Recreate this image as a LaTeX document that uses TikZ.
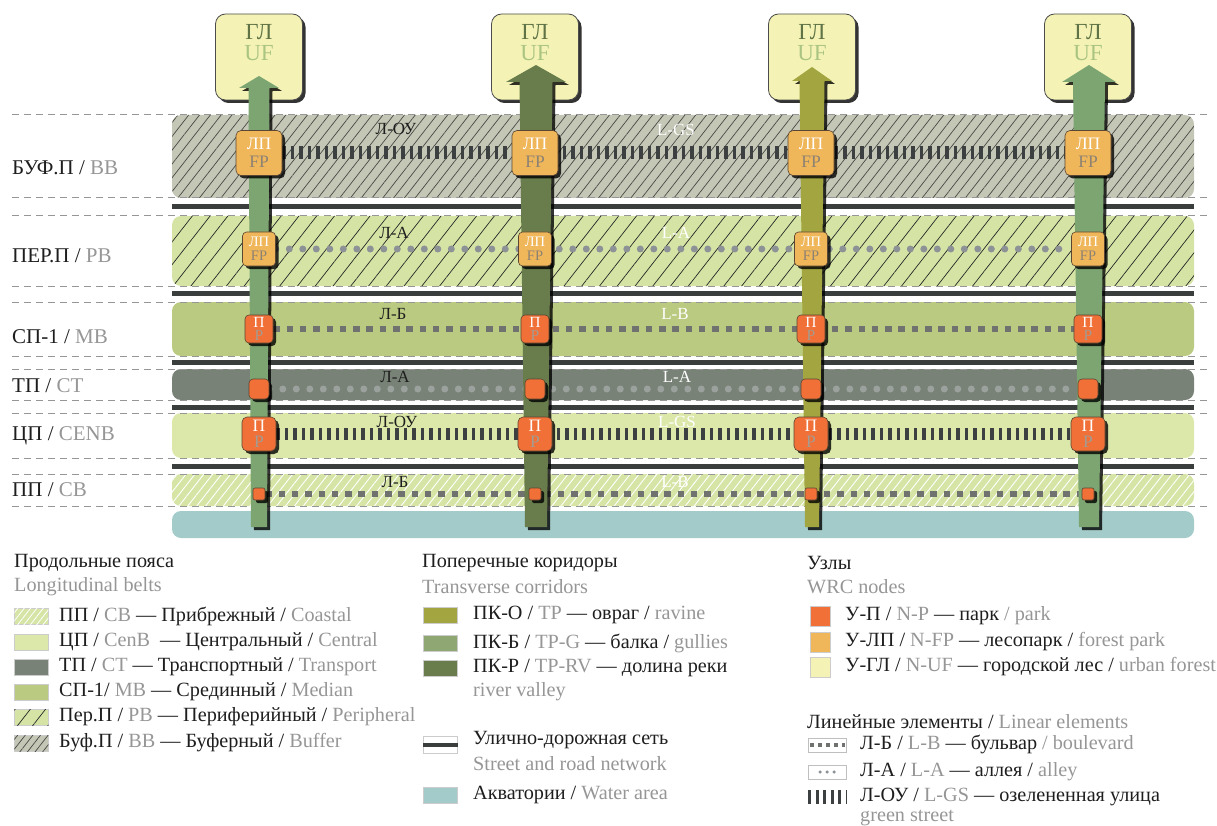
\documentclass[tikz,border=0pt]{standalone}
\usepackage{fontspec}
\setmainfont{Liberation Serif}
\usetikzlibrary{shadows,patterns.meta}
\definecolor{bufc}{RGB}{196,198,182}
\definecolor{bufln}{RGB}{70,74,68}
\definecolor{perc}{RGB}{213,228,165}
\definecolor{medc}{RGB}{186,202,128}
\definecolor{trc}{RGB}{120,130,118}
\definecolor{cenc}{RGB}{220,232,170}
\definecolor{coastc}{RGB}{214,229,166}
\definecolor{waterc}{RGB}{162,203,201}
\definecolor{roadc}{RGB}{58,62,61}
\definecolor{guidec}{RGB}{150,150,150}
\definecolor{corrg}{RGB}{124,165,114}
\definecolor{corrd}{RGB}{104,125,75}
\definecolor{corro}{RGB}{163,165,64}
\definecolor{corrb}{RGB}{143,168,115}
\definecolor{ufc}{RGB}{244,243,181}
\definecolor{ufdark}{RGB}{95,115,70}
\definecolor{uflight}{RGB}{170,196,130}
\definecolor{fpc}{RGB}{240,182,90}
\definecolor{parkc}{RGB}{240,112,56}
\definecolor{nodeln}{RGB}{90,70,50}
\definecolor{fpgrey}{RGB}{140,130,115}
\definecolor{pgrey}{RGB}{165,155,145}
\definecolor{ladc}{RGB}{60,64,64}
\definecolor{sqc}{RGB}{112,114,112}
\definecolor{dotc}{RGB}{140,146,150}
\definecolor{dotl}{RGB}{155,162,158}
\definecolor{txtdark}{RGB}{30,30,30}
\definecolor{txtgrey}{RGB}{150,150,150}
\newcommand{\gry}[1]{{\color{txtgrey}#1}}
\pgfdeclarelayer{back}
\pgfdeclarelayer{mid}
\pgfsetlayers{back,mid,main}

\begin{document}
\begin{tikzpicture}[x=1pt,y=-1pt,
  belt/.style={rounded corners=9pt},
  guide/.style={draw=guidec,line width=1pt,dash pattern=on 7pt off 5pt},
  road/.style={draw=roadc,line width=5pt},
  dshadow/.style={drop shadow={shadow xshift=3pt,shadow yshift=-3pt,opacity=.8,fill=black}},
  ufbox/.style={dshadow,draw=black!70,line width=.8pt,fill=ufc,rounded corners=10pt,minimum width=87pt,minimum height=86pt,inner sep=0pt},
  uftxt/.style={align=center,inner sep=0pt,text=ufdark,font=\fontsize{23}{21}\selectfont},
  nodebox/.style={dshadow,draw=nodeln,line width=.6pt,inner sep=0pt,align=center,text=white},
  fpbig/.style={nodebox,fill=fpc,rounded corners=5pt,minimum width=46pt,minimum height=45pt,font=\fontsize{17.5}{18}\selectfont},
  fpsmall/.style={nodebox,fill=fpc,rounded corners=4pt,minimum width=33pt,minimum height=34pt,font=\fontsize{14.5}{14}\selectfont},
  pmid/.style={nodebox,fill=parkc,rounded corners=4pt,minimum size=28pt,font=\fontsize{15.5}{13.5}\selectfont},
  pbig/.style={nodebox,fill=parkc,rounded corners=5pt,minimum size=34pt,font=\fontsize{17.5}{15.5}\selectfont},
  pdot/.style={nodebox,fill=parkc,rounded corners=4pt,minimum size=20pt},
  ptiny/.style={nodebox,fill=parkc,rounded corners=2pt,minimum size=12pt},
  ladder/.style={draw=ladc,line width=13pt,dash pattern=on 3.2pt off 5.3pt},
  boul/.style={draw=sqc,line width=6.5pt,dash pattern=on 6.5pt off 6.8pt},
  alley/.style={draw=dotc,line width=7pt,line cap=round,dash pattern=on 0pt off 13.5pt},
  lbldk/.style={inner sep=0pt,text=txtdark,font=\fontsize{17}{17}\selectfont},
  lblwt/.style={lbldk,text=white},
  beltlbl/.style={anchor=west,inner sep=0pt,text=txtdark,font=\fontsize{21}{21}\selectfont},
  legtxt/.style={anchor=west,inner sep=0pt,text=txtdark,font=\fontsize{20.2}{20}\selectfont},
  swatch/.style={anchor=west,draw=black!20,line width=.5pt,minimum width=34pt,minimum height=16pt,inner sep=0pt},
  nswatch/.style={anchor=west,draw=black!20,line width=.5pt,minimum size=20pt,inner sep=0pt},
  lswatch/.style={anchor=west,draw=black!25,line width=.5pt,minimum width=38pt,minimum height=14pt,inner sep=0pt}]
\useasboundingbox (0,0) rectangle (1217,826);

% belts, guides and roads
\begin{pgfonlayer}{back}
\fill[belt,bufc,postaction={pattern={Lines[angle=52,distance=8.5pt,line width=.7pt]},pattern color=bufln}] (172,115) rectangle (1194,198);
\fill[belt,perc,postaction={pattern={Lines[angle=52,distance=14pt,line width=.7pt]},pattern color=black!85}] (172,216) rectangle (1194,286);
\fill[belt,medc] (172,302) rectangle (1194,356);
\fill[belt,trc] (172,369) rectangle (1194,400);
\fill[belt,cenc] (172,413) rectangle (1194,458);
\fill[belt,coastc,postaction={pattern={Lines[angle=52,distance=7pt,line width=.9pt]},pattern color=white}] (172,474) rectangle (1194,506);
\fill[belt,waterc] (172,511) rectangle (1194,538);
\foreach \y in {115,198,216,286,302,356,369,400,413,458,474,506}
  \draw[guide] (12,\y) -- (1210,\y);
\foreach \y in {207,293,362,407,466}
  \draw[road] (172,\y) -- (1194,\y);
\end{pgfonlayer}

\node[beltlbl] (bbl) at (12,168) {БУФ.П / \gry{BB}};
\node[beltlbl] (pbl) at (12,256) {ПЕР.П / \gry{PB}};
\node[beltlbl] (mbl) at (12,337) {СП-1 / \gry{MB}};
\node[beltlbl] (ctl) at (12,386) {ТП / \gry{CT}};
\node[beltlbl] (cnl) at (12,436) {ЦП / \gry{CENB}};
\node[beltlbl] (cbl) at (12,490) {ПП / \gry{CB}};

% urban forest boxes
\foreach \i/\x in {1/259,2/535,3/812,4/1088}{
  \node[ufbox] (uf\i) at (\x,57) {};
  \node[uftxt] (ufl\i) at (\x,43) {ГЛ\\\color{uflight}UF};
}

% corridors
\foreach \cx/\wt/\wb/\wh/\tp/\hb/\cc in {259/21/16/40/76/88/corrg,536/33/22/60/65/82/corrd,812/25/14/40/67/81/corro,1089/32/20/54/65/82/corrg}
  \fill[dshadow,\cc] (\cx-\wb/2,527) -- (\cx-\wt/2,\hb) -- (\cx-\wh/2,\hb) -- (\cx,\tp)
    -- (\cx+\wh/2,\hb) -- (\cx+\wt/2,\hb) -- (\cx+\wb/2,527) -- cycle;

% nodes
\foreach \i/\x in {1/259,2/535,3/811,4/1088}{
  \node[fpbig] (fpa\i) at (\x,153) {ЛП\\\color{fpgrey}FP};
  \node[fpsmall] (fpb\i) at (\x,249) {ЛП\\\color{fpgrey}FP};
  \node[pmid] (pm\i) at (\x,329) {П\\\color{pgrey}P};
  \node[pdot] (pt\i) at (\x,389) {};
  \node[pbig] (pc\i) at (\x,434) {П\\\color{pgrey}P};
  \node[ptiny] (ps\i) at (\x,494) {};
}

% linear elements
\begin{pgfonlayer}{mid}
\draw[ladder] (fpa1.east) -- (fpa4.west);
\draw[alley] (fpb1.east) -- (fpb4.west);
\draw[boul] (pm1.east) -- (pm4.west);
\draw[alley,draw=dotl] (pt1.east) -- (pt4.west);
\draw[ladder,line width=12pt] (pc1.east) -- (pc4.west);
\draw[boul] (ps1.east) -- (ps4.west);
\node[lbldk] (la1) at (396,129) {Л-ОУ};
\node[lblwt] (lb1) at (676,130) {L-GS};
\node[lbldk] (la2) at (394,233) {Л-А};
\node[lblwt] (lb2) at (676,233) {L-A};
\node[lbldk] (la3) at (393,314) {Л-Б};
\node[lblwt] (lb3) at (675,314) {L-B};
\node[lbldk] (la4) at (395,377) {Л-А};
\node[lblwt] (lb4) at (677,377) {L-A};
\node[lbldk] (la5) at (397,422) {Л-ОУ};
\node[lblwt] (lb5) at (677,422) {L-GS};
\node[lbldk] (la6) at (395,482) {Л-Б};
\node[lblwt] (lb6) at (675,482) {L-B};
\end{pgfonlayer}

% legend: belts
\node[legtxt] (hb) at (14,563) {Продольные пояса};
\node[legtxt,text=txtgrey] (hbe) at (14,587) {Longitudinal belts};
\node[swatch,fill=coastc,postaction={pattern={Lines[angle=52,distance=5pt,line width=.8pt]},pattern color=white}] (sb1) at (14,616) {};
\node[legtxt] (tb1) at (59,616) {ПП / \gry{CB} — Прибрежный / \gry{Coastal}};
\node[swatch,fill=cenc] (sb2) at (14,642) {};
\node[legtxt] (tb2) at (59,642) {ЦП / \gry{CenB}\ \ — Центральный / \gry{Central}};
\node[swatch,fill=trc] (sb3) at (14,667) {};
\node[legtxt] (tb3) at (59,667) {ТП / \gry{CT} — Транспортный / \gry{Transport}};
\node[swatch,fill=medc] (sb4) at (14,692) {};
\node[legtxt] (tb4) at (59,692) {СП-1/ \gry{MB} — Срединный / \gry{Median}};
\node[swatch,fill=perc,postaction={pattern={Lines[angle=52,distance=12pt,line width=.7pt]},pattern color=black!85}] (sb5) at (14,717) {};
\node[legtxt] (tb5) at (59,717) {Пер.П / \gry{PB} — Периферийный / \gry{Peripheral}};
\node[swatch,fill=bufc,postaction={pattern={Lines[angle=52,distance=6pt,line width=.7pt]},pattern color=bufln}] (sb6) at (14,743) {};
\node[legtxt] (tb6) at (59,743) {Буф.П / \gry{BB} — Буферный / \gry{Buffer}};

% legend: corridors
\node[legtxt] (hc) at (422,563) {Поперечные коридоры};
\node[legtxt,text=txtgrey] (hce) at (422,587) {Transverse corridors};
\node[swatch,fill=corro] (sc1) at (423,615) {};
\node[legtxt] (tc1) at (473,615) {ПК-О / \gry{TP} — овраг / \gry{ravine}};
\node[swatch,fill=corrb] (sc2) at (423,643) {};
\node[legtxt] (tc2) at (473,643) {ПК-Б / \gry{TP-G} — балка / \gry{gullies}};
\node[swatch,fill=corrd] (sc3) at (423,668) {};
\node[legtxt] (tc3) at (473,668) {ПК-Р / \gry{TP-RV} — долина реки};
\node[legtxt,text=txtgrey] (tc3e) at (473,692) {river valley};
\node[swatch,fill=white,minimum height=17pt] (sr) at (423,745) {};
\draw[road,line width=4pt] (sr.west) -- (sr.east);
\node[legtxt] (tr) at (473,740) {Улично-дорожная сеть};
\node[legtxt,text=txtgrey] (tre) at (473,764) {Street and road network};
\node[swatch,fill=waterc] (sw) at (423,795) {};
\node[legtxt] (tw) at (473,795) {Акватории / \gry{Water area}};

% legend: nodes and linear elements
\node[legtxt] (hn) at (807,563) {Узлы};
\node[legtxt,text=txtgrey] (hne) at (807,587) {WRC nodes};
\node[nswatch,fill=parkc] (sn1) at (810,616) {};
\node[legtxt] (tn1) at (845,616) {У-П / \gry{N-P} — парк \gry{/ park}};
\node[nswatch,fill=fpc] (sn2) at (810,642) {};
\node[legtxt] (tn2) at (845,642) {У-ЛП / \gry{N-FP} — лесопарк / \gry{forest park}};
\node[nswatch,fill=ufc] (sn3) at (810,667) {};
\node[legtxt] (tn3) at (845,667) {У-ГЛ / \gry{N-UF} — городской лес / \gry{urban forest}};
\node[legtxt] (hl) at (807,722) {Линейные элементы / \gry{Linear elements}};
\node[lswatch] (sl1) at (808,745) {};
\draw[boul,line width=4pt,dash pattern=on 4pt off 4pt] ([xshift=2pt]sl1.west) -- ([xshift=-2pt]sl1.east);
\node[legtxt] (tl1) at (860,744) {Л-Б / \gry{L-B} — бульвар \gry{/ boulevard}};
\node[lswatch] (sl2) at (808,772) {};
\draw[alley,line width=3.5pt,dash pattern=on 0pt off 7pt] ([xshift=12pt]sl2.west) -- ([xshift=-12pt]sl2.east);
\node[legtxt] (tl2) at (860,772) {Л-А / \gry{L-A} — аллея / \gry{alley}};
\node[lswatch,draw=none] (sl3) at (808,797) {};
\draw[ladder,line width=14pt,dash pattern=on 3pt off 4.5pt] (sl3.west) -- (sl3.east);
\node[legtxt] (tl3) at (860,797) {Л-ОУ / \gry{L-GS} — озелененная улица};
\node[legtxt,text=txtgrey] (tl3e) at (860,818) {green street};
\end{tikzpicture}
\end{document}
